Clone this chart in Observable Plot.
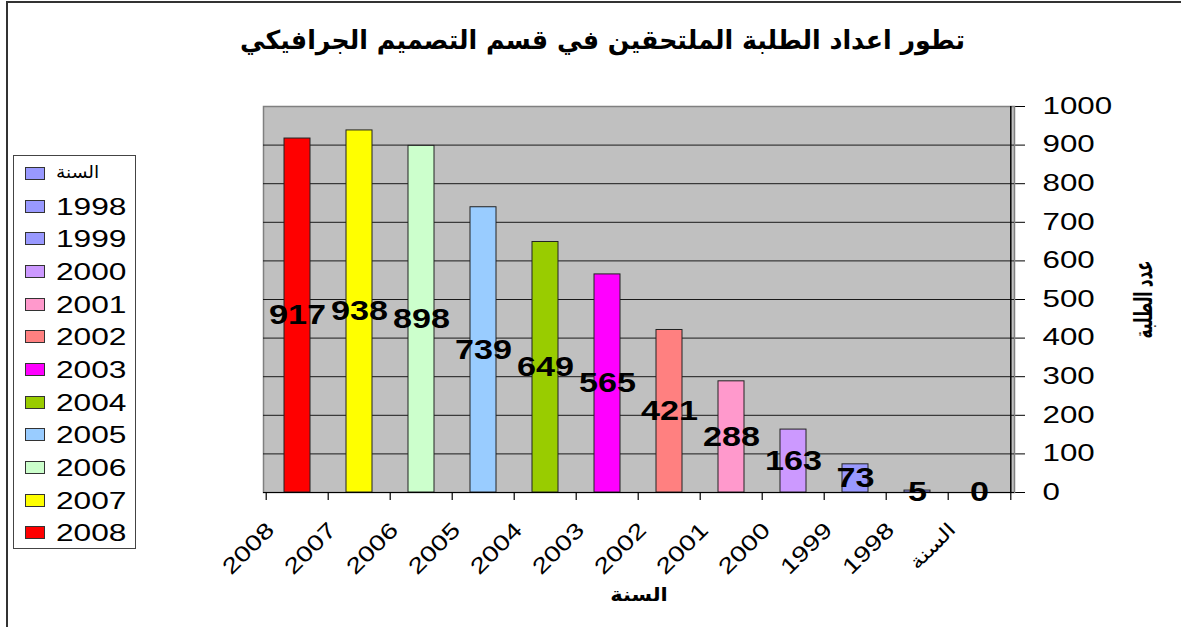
<!DOCTYPE html>
<html>
<head>
<meta charset="utf-8">
<script src="https://cdn.jsdelivr.net/npm/d3@7"></script>
<script src="https://cdn.jsdelivr.net/npm/@observablehq/plot@0.6"></script>
<style>
  html, body { margin: 0; padding: 0; background: #fff; }
  #wrap { position: relative; width: 1181px; height: 627px; overflow: hidden;
          font-family: "Liberation Sans", "DejaVu Sans", Arial, sans-serif; color: #000; }
  #border { position: absolute; left: 6px; top: 1px; width: 1200px; height: 700px;
            border-left: 2px solid #333; border-top: 2px solid #333; }
  #plotbox { position: absolute; left: 0; top: 0; }
  #title { position: absolute; left: 240px; top: 27px; white-space: nowrap;
           font-family: "DejaVu Sans", sans-serif; font-weight: bold; font-size: 26px; line-height: 1;
           transform-origin: left top; direction: rtl; unicode-bidi: plaintext; }
  #legend { position: absolute; left: 13px; top: 155px; width: 121px; height: 392px;
            border: 1px solid #444; background: #fff; }
  .li { position: absolute; left: 0; width: 121px; height: 30px; }
  .sw { position: absolute; left: 11px; width: 20px; height: 13px; box-sizing: border-box; border: 1px solid #333; }
  .lt { position: absolute; left: 42px; font-size: 24px; line-height: 1; white-space: nowrap; transform-origin: left center; }
</style>
</head>
<body>
<div id="wrap">
  <div id="border"></div>
  <div id="plotbox"></div>
  <div id="title"></div>
  <div id="legend"></div>
</div>
<script>
// ---- data ----
const categories = ["2008", "2007", "2006", "2005", "2004", "2003", "2002", "2001", "2000", "1999", "1998", "السنة"];
const counts = [917, 938, 898, 739, 649, 565, 421, 288, 163, 73, 5, 0];
const colors = ["#FF0000", "#FFFF00", "#CCFFCC", "#99CCFF", "#99CC00", "#FF00FF", "#FF8080", "#FF99CC", "#CC99FF", "#9999FF", "#9999FF", "#9999FF"];
const yTicks = [0, 100, 200, 300, 400, 500, 600, 700, 800, 900, 1000];
const titleText = "تطور اعداد الطلبة الملتحقين في قسم التصميم الجرافيكي";
const xTitle = "السنة";
const yTitle = "عدد الطلبة";

const data = categories.map((c, i) => ({year: c, count: counts[i]}));

// ---- layout ----
const W = 1181, H = 627, ML = 263, MR = 167, MT = 106, MB = 135;
const step = (W - ML - MR) / categories.length;
const FONT = '"Liberation Sans", "DejaVu Sans", Arial, sans-serif';

const chart = Plot.plot({
  width: W, height: H,
  marginLeft: ML, marginRight: MR, marginTop: MT, marginBottom: MB,
  style: {fontFamily: FONT, fontSize: "23px", color: "#000", background: "transparent", overflow: "visible"},
  x: {domain: categories, paddingInner: 0.58, paddingOuter: 0.29, axis: null},
  y: {domain: [0, 1000], axis: "right", ticks: yTicks, tickSize: 10, tickPadding: 18, label: null, tickFormat: d => String(d)},
  color: {domain: categories, range: colors},
  marks: [
    Plot.frame({fill: "#C0C0C0", stroke: "#808080", strokeWidth: 1.5}),
    Plot.ruleY(yTicks.filter(v => v > 0 && v < 1000), {stroke: "#1a1a1a", strokeWidth: 1}),
    Plot.barY(data, {x: "year", y: "count", fill: "year", stroke: "#222", strokeWidth: 1}),
    Plot.ruleY([0], {stroke: "#000", strokeWidth: 1.2}),
    Plot.ruleX([categories[categories.length - 1]], {x: d => d, dx: step / 2, stroke: "#000", strokeWidth: 1.5}),
    Plot.ruleX(categories, {x: d => d, dx: -step / 2, y1: d => 0, y2: d => 0, insetBottom: -8, stroke: "#000", strokeWidth: 1.2}),
    Plot.ruleX([categories[categories.length - 1]], {x: d => d, dx: step / 2, y1: d => 0, y2: d => 0, insetBottom: -8, stroke: "#000", strokeWidth: 1.2}),
    Plot.text(data, {x: "year", y: d => d.count / 2, text: d => String(d.count), fontSize: 28, fontWeight: "bold", fill: "#000", ariaDescription: "values"}),
    Plot.text(categories, {x: d => d, text: d => d, frameAnchor: "bottom", rotate: -45, textAnchor: "end", lineAnchor: "middle",
      dx: -27, dy: 34, fontSize: d => (isNaN(+d) ? 19 : 22), fill: "#000", ariaDescription: "xlabels"}),
    Plot.text([xTitle], {text: d => d, frameAnchor: "bottom", textAnchor: "middle", dy: 108, fontSize: 19, fontWeight: "bold", fill: "#000", ariaDescription: "xtitle"}),
    Plot.text([yTitle], {text: d => d, frameAnchor: "right", textAnchor: "middle", dx: 129, rotate: -90, fontSize: 25, fontWeight: "bold", fill: "#000", ariaDescription: "ytitle"})
  ]
});

document.getElementById("plotbox").append(chart);

function stretch(sel, k) {
  chart.querySelectorAll(sel).forEach(t => {
    const w = t.getComputedTextLength();
    if (w > 0) {
      t.setAttribute("textLength", (w * k).toFixed(1));
      t.setAttribute("lengthAdjust", "spacingAndGlyphs");
    }
  });
}
function fitLength(sel, len) {
  chart.querySelectorAll(sel).forEach(t => {
    t.setAttribute("textLength", len);
    t.setAttribute("lengthAdjust", "spacingAndGlyphs");
  });
}
stretch('g[aria-label="y-axis tick label"] text', 1.36);
stretch('g[aria-description="values"] text', 1.22);
stretch('g[aria-description="xlabels"] text', 1.28);
stretch('g[aria-description="xtitle"] text', 1.1);
fitLength('g[aria-description="ytitle"] text', 78);

// ---- title ----
const titleEl = document.getElementById("title");
titleEl.textContent = titleText;
const tw = titleEl.getBoundingClientRect().width;
titleEl.style.transform = `scaleX(${725 / tw})`;

// ---- legend ----
const legend = document.getElementById("legend");
const legendOrder = categories.slice().reverse();
const itemStep = 392 / legendOrder.length;
legendOrder.forEach((c, i) => {
  const item = document.createElement("div");
  item.className = "li";
  item.style.top = `${i * itemStep + 2}px`;
  const sw = document.createElement("div");
  sw.className = "sw";
  sw.style.top = "9px";
  sw.style.background = colors[categories.indexOf(c)];
  const lt = document.createElement("div");
  lt.className = "lt";
  lt.textContent = c;
  const arabic = isNaN(+c);
  lt.style.fontSize = arabic ? "17px" : "24px";
  lt.style.top = arabic ? "6px" : "4px";
  lt.style.transform = `scaleX(${arabic ? 1.1 : 1.32})`;
  item.append(sw, lt);
  legend.append(item);
});
</script>
</body>
</html>
